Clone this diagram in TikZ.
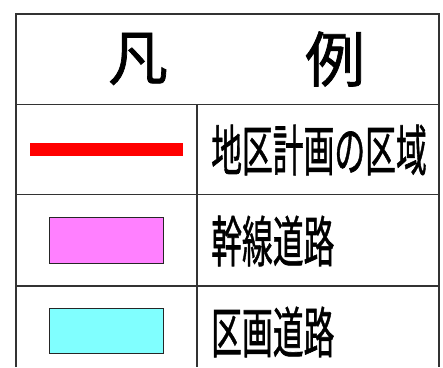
\documentclass[tikz,border=0pt]{standalone}
\usepackage{fontspec}
\newfontfamily\cjk[FakeBold=1.2]{Noto Sans CJK JP}
\definecolor{gridline}{HTML}{333333}
\definecolor{roadpink}{HTML}{FF80FF}
\definecolor{roadcyan}{HTML}{80FFFF}
\tikzset{
  grid/.style={draw=gridline, line width=1.5pt},
  headtext/.style={font=\cjk\fontsize{60}{60}\selectfont, inner sep=0pt},
  rowtext/.style={font=\cjk\fontsize{55}{55}\selectfont, inner sep=0pt, anchor=west},
  swatch/.style={draw=black!85, line width=1pt}
}
\newcommand{\cond}[1]{\scalebox{0.56}[1]{#1}}
\begin{document}
\begin{tikzpicture}[x=1pt,y=-1pt]
\useasboundingbox (0,0) rectangle (443,367);
% grid
\coordinate (tl) at (16,14);
\coordinate (tr) at (439,14);
\coordinate (bl) at (16,367);
\coordinate (br) at (439,367);
\draw[grid] (bl) -- (tl) -- (tr) -- (br);
\coordinate (h1l) at (16,104.5);
\coordinate (h1r) at (439,104.5);
\coordinate (h2l) at (16,194.5);
\coordinate (h2r) at (439,194.5);
\coordinate (h3l) at (16,286);
\coordinate (h3r) at (439,286);
\coordinate (vt) at (197,104.5);
\coordinate (vb) at (197,367);
\draw[grid] (h1l) -- (h1r);
\draw[grid] (h2l) -- (h2r);
\draw[grid] (h3l) -- (h3r);
\draw[grid] (vt) -- (vb);
% header
\node[headtext] (han) at (138,59) {凡};
\node[headtext] (rei) at (335,59) {例};
% row 1
\coordinate (ra) at (30,149.5);
\coordinate (rb) at (183,149.5);
\draw[red, line width=13pt] (ra) -- (rb);
\node[rowtext] (t1) at (211,150) {\cond{地区計画の区域}};
% row 2
\node[swatch, fill=roadpink, minimum width=114pt, minimum height=46pt] (s2) at (106,240) {};
\node[rowtext] (t2) at (211,241) {\cond{幹線道路}};
% row 3
\node[swatch, fill=roadcyan, minimum width=114pt, minimum height=45pt] (s3) at (106,330.5) {};
\node[rowtext] (t3) at (211,332) {\cond{区画道路}};
\end{tikzpicture}
\end{document}
